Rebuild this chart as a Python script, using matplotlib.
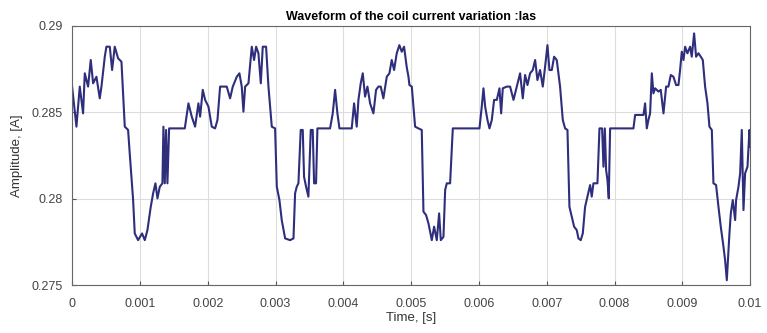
import matplotlib.pyplot as plt
import numpy as np

# Coil current samples (time in ms, amplitude in A)
time_ms = [
    0.000, 0.064, 0.113, 0.162, 0.187, 0.236, 0.275, 0.310, 0.359, 0.408,
    0.433, 0.482, 0.506, 0.556, 0.590, 0.629, 0.678, 0.728, 0.777, 0.826,
    0.850, 0.900, 0.924, 0.973, 1.032, 1.072, 1.111, 1.160, 1.195, 1.229,
    1.259, 1.293, 1.332, 1.347, 1.367, 1.386, 1.406, 1.431, 1.662, 1.716,
    1.765, 1.814, 1.863, 1.888, 1.927, 1.962, 2.011, 2.060, 2.109, 2.144,
    2.183, 2.281, 2.330, 2.370, 2.429, 2.468, 2.502, 2.527, 2.552, 2.601,
    2.650, 2.684, 2.714, 2.748, 2.783, 2.812, 2.861, 2.896, 2.945, 2.994,
    3.019, 3.058, 3.092, 3.142, 3.215, 3.265, 3.289, 3.313, 3.338, 3.372,
    3.402, 3.421, 3.451, 3.485, 3.520, 3.549, 3.569, 3.598, 3.618, 3.805,
    3.844, 3.879, 3.913, 3.943, 4.124, 4.159, 4.198, 4.223, 4.257, 4.287,
    4.321, 4.356, 4.395, 4.444, 4.483, 4.518, 4.552, 4.591, 4.641, 4.680,
    4.714, 4.749, 4.788, 4.827, 4.862, 4.896, 4.936, 4.961, 4.975, 5.010,
    5.059, 5.108, 5.157, 5.182, 5.221, 5.256, 5.305, 5.339, 5.379, 5.413,
    5.438, 5.477, 5.502, 5.526, 5.575, 5.615, 6.008, 6.042, 6.067, 6.092,
    6.126, 6.156, 6.190, 6.224, 6.264, 6.303, 6.328, 6.352, 6.411, 6.460,
    6.510, 6.559, 6.607, 6.647, 6.681, 6.716, 6.755, 6.794, 6.829, 6.863,
    6.902, 6.942, 6.976, 7.011, 7.040, 7.075, 7.109, 7.148, 7.173, 7.197,
    7.237, 7.271, 7.306, 7.335, 7.369, 7.404, 7.443, 7.468, 7.502, 7.532,
    7.566, 7.601, 7.640, 7.664, 7.689, 7.748, 7.778, 7.817, 7.837, 7.857,
    7.876, 7.896, 7.915, 7.935, 8.279, 8.304, 8.427, 8.451, 8.476, 8.500,
    8.525, 8.550, 8.574, 8.599, 8.648, 8.682, 8.722, 8.761, 8.795, 8.830,
    8.869, 8.908, 8.943, 8.967, 8.992, 9.017, 9.041, 9.075, 9.115, 9.139,
    9.174, 9.203, 9.238, 9.272, 9.302, 9.336, 9.371, 9.400, 9.435, 9.459,
    9.498, 9.533, 9.567, 9.607, 9.631, 9.656, 9.680, 9.695, 9.715, 9.744,
    9.779, 9.793, 9.828, 9.853, 9.877, 9.902, 9.926, 9.961, 9.990, 10.000,
]
amplitude = [
    0.28649, 0.28417, 0.28649, 0.28494, 0.28726, 0.28649, 0.28803, 0.28668, 0.28706, 0.28581,
    0.28649, 0.28822, 0.28880, 0.28880, 0.28745, 0.28880, 0.28813, 0.28793, 0.28417, 0.28398,
    0.28262, 0.27992, 0.27799, 0.27760, 0.27799, 0.27760, 0.27818, 0.27953, 0.28031, 0.28089,
    0.28002, 0.28069, 0.28089, 0.28417, 0.28089, 0.28398, 0.28089, 0.28407, 0.28407, 0.28552,
    0.28475, 0.28417, 0.28552, 0.28475, 0.28630, 0.28572, 0.28533, 0.28417, 0.28407, 0.28456,
    0.28649, 0.28649, 0.28581, 0.28649, 0.28706, 0.28726, 0.28649, 0.28504, 0.28649, 0.28668,
    0.28880, 0.28803, 0.28880, 0.28842, 0.28668, 0.28880, 0.28880, 0.28649, 0.28417, 0.28407,
    0.28069, 0.27992, 0.27876, 0.27770, 0.27760, 0.27770, 0.28031, 0.28069, 0.28089, 0.28398,
    0.28398, 0.28127, 0.28069, 0.28012, 0.28398, 0.28398, 0.28089, 0.28089, 0.28407, 0.28407,
    0.28494, 0.28630, 0.28494, 0.28407, 0.28407, 0.28552, 0.28417, 0.28572, 0.28668, 0.28726,
    0.28591, 0.28649, 0.28552, 0.28494, 0.28630, 0.28649, 0.28649, 0.28581, 0.28706, 0.28726,
    0.28803, 0.28745, 0.28842, 0.28889, 0.28851, 0.28880, 0.28760, 0.28706, 0.28658, 0.28649,
    0.28417, 0.28407, 0.28398, 0.27925, 0.27905, 0.27857, 0.27760, 0.27838, 0.27760, 0.27915,
    0.27760, 0.27779, 0.28050, 0.28089, 0.28089, 0.28407, 0.28407, 0.28533, 0.28639, 0.28533,
    0.28456, 0.28407, 0.28456, 0.28572, 0.28572, 0.28639, 0.28494, 0.28639, 0.28649, 0.28649,
    0.28572, 0.28649, 0.28726, 0.28581, 0.28716, 0.28658, 0.28726, 0.28745, 0.28803, 0.28687,
    0.28745, 0.28649, 0.28764, 0.28889, 0.28745, 0.28745, 0.28822, 0.28803, 0.28726, 0.28649,
    0.28456, 0.28407, 0.28398, 0.27953, 0.27896, 0.27838, 0.27818, 0.27770, 0.27760, 0.27799,
    0.27953, 0.28012, 0.28079, 0.28012, 0.28089, 0.28089, 0.28407, 0.28407, 0.28185, 0.28407,
    0.28166, 0.28108, 0.28002, 0.28407, 0.28407, 0.28485, 0.28485, 0.28552, 0.28407, 0.28456,
    0.28494, 0.28726, 0.28610, 0.28639, 0.28620, 0.28630, 0.28494, 0.28649, 0.28649, 0.28716,
    0.28706, 0.28658, 0.28658, 0.28745, 0.28851, 0.28803, 0.28880, 0.28842, 0.28880, 0.28822,
    0.28957, 0.28822, 0.28842, 0.28822, 0.28803, 0.28649, 0.28552, 0.28417, 0.28398, 0.28089,
    0.28079, 0.27953, 0.27838, 0.27722, 0.27644, 0.27528, 0.27702, 0.27799, 0.27915, 0.27992,
    0.27876, 0.27992, 0.28069, 0.28147, 0.28398, 0.27934, 0.28147, 0.28185, 0.28398, 0.28300,
]

x_ticks = [0, 0.001, 0.002, 0.003, 0.004, 0.005, 0.006, 0.007, 0.008, 0.009, 0.01]
x_tick_labels = ['0', '0.001', '0.002', '0.003', '0.004', '0.005',
                 '0.006', '0.007', '0.008', '0.009', '0.01']
y_ticks = [0.275, 0.28, 0.285, 0.29]
y_tick_labels = ['0.275', '0.28', '0.285', '0.29']

plt.rcParams['font.family'] = ['Liberation Sans', 'DejaVu Sans']

t = np.array(time_ms) * 1e-3

fig = plt.figure(figsize=(7.67, 3.33), dpi=100)
ax = fig.add_axes([0.094, 0.144, 0.884, 0.778])

ax.plot(t, amplitude, color='#2e2e7c', linewidth=1.5)

ax.set_xlim(0, 0.01)
ax.set_ylim(0.275, 0.29)
ax.set_xticks(x_ticks)
ax.set_xticklabels(x_tick_labels)
ax.set_yticks(y_ticks)
ax.set_yticklabels(y_tick_labels)
ax.tick_params(direction='in', length=3, labelsize=9, colors='#555555',
               labelcolor='#444444')
ax.tick_params(axis='x', pad=9)
ax.tick_params(axis='y', pad=7)
for s in ax.spines.values():
    s.set_color('#666666')
    s.set_linewidth(0.8)
ax.grid(True, color='#dddddd', linewidth=0.8)
ax.set_axisbelow(True)

ax.set_title('Waveform of the coil current variation :Ias', fontsize=9,
             fontweight='bold', pad=4)
ax.set_xlabel('Time, [s]', fontsize=9.5, color='#333333', labelpad=2)
ax.set_ylabel('Amplitude, [A]', fontsize=9.5, color='#333333', labelpad=6)

fig.savefig('out.png', dpi=100)
